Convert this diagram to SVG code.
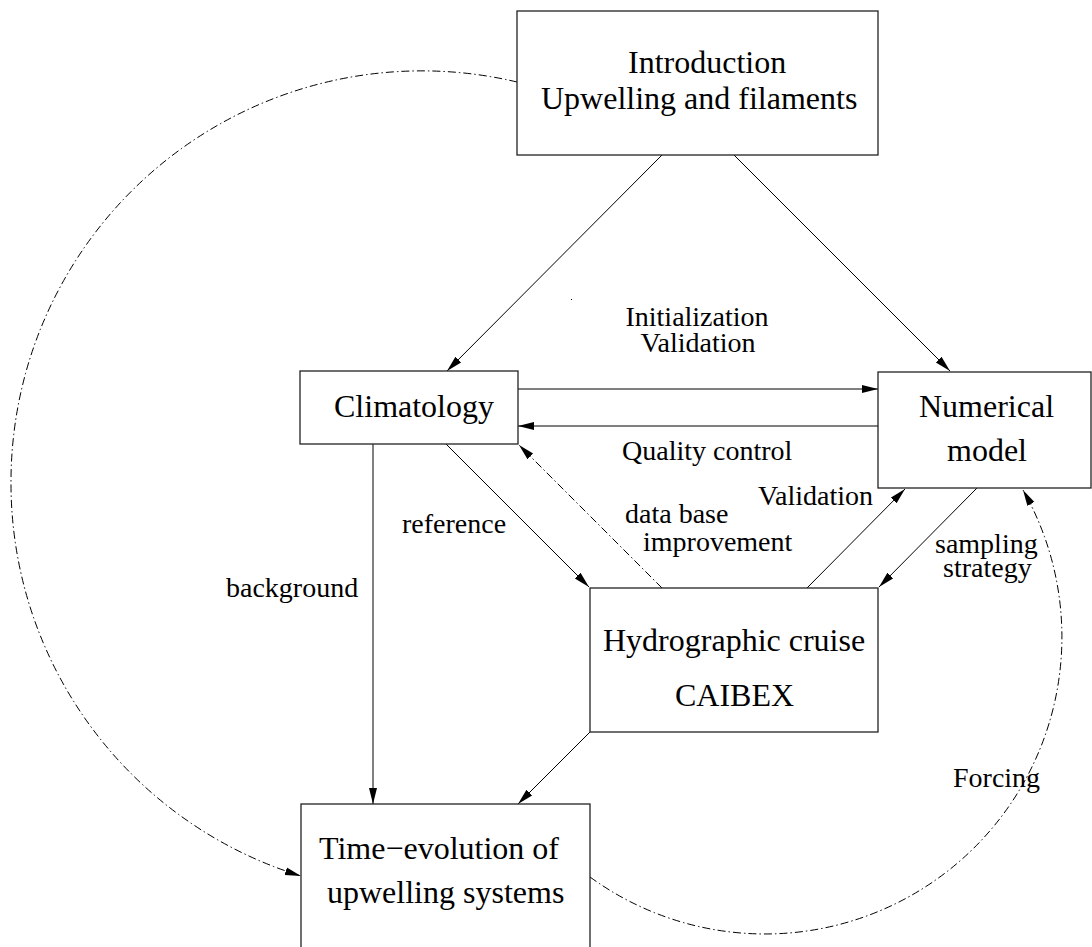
<svg xmlns="http://www.w3.org/2000/svg" width="1092" height="947" viewBox="0 0 1092 947">
<style>
.box{fill:#fff;stroke:#222;stroke-width:1.3}
.t{font-family:"Liberation Serif","Times New Roman",serif;font-size:32px;fill:#000}
.l{font-family:"Liberation Serif","Times New Roman",serif;font-size:28px;fill:#000}
.c{fill:none;stroke:#000;stroke-width:1}
.dd{fill:none;stroke:#000;stroke-width:1;stroke-dasharray:8 3 1.5 3}
</style>
<defs>
<marker id="ah" markerUnits="userSpaceOnUse" markerWidth="16" markerHeight="10" viewBox="0 0 16 10" refX="16" refY="5" orient="auto">
<path d="M0,1 L16,5 L0,9 Z" fill="#000"/>
</marker>
</defs>
<rect width="1092" height="947" fill="#fff"/>
<g id="connectors">
<path class="dd" d="M517,82 A411,411 0 0,0 11,480 A411,411 0 0,0 301,876" marker-end="url(#ah)"/>
<path class="dd" d="M590,877 A297,297 0 0,0 1023,490" marker-end="url(#ah)"/>
<line class="c" x1="662" y1="155" x2="447" y2="371" marker-end="url(#ah)"/>
<line class="c" x1="734" y1="155" x2="950" y2="371" marker-end="url(#ah)"/>
<line class="c" x1="518" y1="389" x2="878" y2="389" marker-end="url(#ah)"/>
<line class="c" x1="878" y1="426" x2="518" y2="426" marker-end="url(#ah)"/>
<line class="c" x1="446" y1="444" x2="589" y2="587" marker-end="url(#ah)"/>
<line class="dd" x1="662" y1="588" x2="519" y2="445" marker-end="url(#ah)"/>
<line class="c" x1="807" y1="588" x2="905" y2="489" marker-end="url(#ah)"/>
<line class="c" x1="977" y1="488" x2="879" y2="587" marker-end="url(#ah)"/>
<line class="c" x1="373" y1="444" x2="373" y2="804" marker-end="url(#ah)"/>
<line class="c" x1="590" y1="732" x2="518" y2="804" marker-end="url(#ah)"/>
</g>
<g id="intro">
<rect class="box" x="517" y="11" width="361" height="144"/>
<text class="t" x="628" y="73">Introduction</text>
<text class="t" x="541" y="109">Upwelling and filaments</text>
</g>
<g id="climatology">
<rect class="box" x="300" y="371" width="218" height="73"/>
<text class="t" x="334" y="417">Climatology</text>
</g>
<g id="numerical">
<rect class="box" x="878" y="372" width="213" height="116"/>
<text class="t" x="919" y="417">Numerical</text>
<text class="t" x="947" y="461">model</text>
</g>
<g id="hydro">
<rect class="box" x="590" y="588" width="288" height="144"/>
<text class="t" x="603" y="651">Hydrographic cruise</text>
<text class="t" x="675" y="706">CAIBEX</text>
</g>
<g id="time">
<rect class="box" x="301" y="804" width="289" height="160"/>
<text class="t" x="319" y="859">Time−evolution of</text>
<text class="t" x="327" y="903">upwelling systems</text>
</g>
<g id="labels">
<text class="l" x="697" y="326" text-anchor="middle">Initialization</text>
<text class="l" x="698" y="352" text-anchor="middle">Validation</text>
<text class="l" x="622" y="460">Quality control</text>
<text class="l" x="402" y="533">reference</text>
<text class="l" x="625" y="523">data base</text>
<text class="l" x="643" y="551">improvement</text>
<text class="l" x="758" y="505">Validation</text>
<text class="l" x="935" y="553">sampling</text>
<text class="l" x="943" y="577">strategy</text>
<text class="l" x="226" y="597">background</text>
<text class="l" x="953" y="787">Forcing</text>
</g>
<rect x="571" y="299" width="1" height="1" fill="#000"/>
</svg>
